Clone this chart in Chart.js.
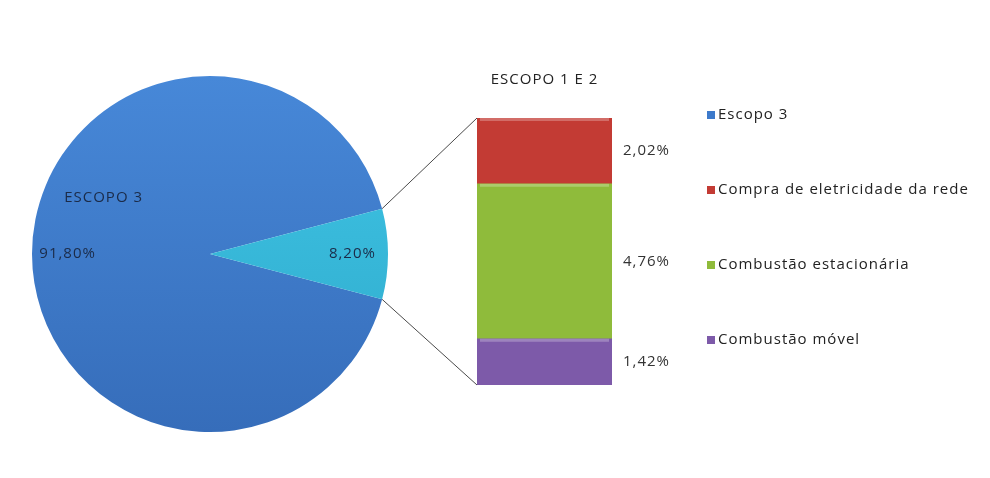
<!DOCTYPE html>
<html lang="pt-BR">
<head>
  <meta charset="UTF-8">
  <title>Emissões por escopo</title>
  <style>
    html, body {
      margin: 0;
      padding: 0;
      background: #ffffff;
    }
    .stage {
      position: relative;
      width: 990px;
      height: 478px;
    }
    .stage canvas {
      position: absolute;
      left: 0;
      top: 0;
    }
  </style>
</head>
<body>
  <div class="stage">
    <canvas id="pieChart" width="990" height="478"></canvas>
    <canvas id="barChart" width="990" height="478"></canvas>
  </div>

  <script src="https://cdn.jsdelivr.net/npm/chart.js"></script>
  <script>
    // Pie: total emissions split into scope 3 and scopes 1+2 (%)
    const pieLabels = ['Escopo 3', 'Escopo 1 e 2'];
    const pieValues = [91.80, 8.20];
    const pieColors = ['#3d7acb', '#36badb'];

    // Stacked bar: breakdown of scopes 1+2 (%), bottom to top
    const barLabels = ['Combustão móvel', 'Combustão estacionária', 'Compra de eletricidade da rede'];
    const barValues = [1.42, 4.76, 2.02];
    const barColors = ['#7d5aa9', '#8fbb3b', '#c33b34'];

    const FONT = '"Open Sans", sans-serif';
    const fmt = v => v.toFixed(2).replace('.', ',') + '%';

    // slightly lighter at the top, darker at the bottom
    const pieShades = [['#4788d8', '#366dba'], ['#40c6e6', '#2ea9cb']];

    // rotate so the scope 1+2 slice sits centred on the right-hand side
    const total = pieValues.reduce((a, b) => a + b, 0);
    const rotation = 90 - (pieValues[0] + pieValues[1] / 2) / total * 360;

    const pieChart = new Chart(document.getElementById('pieChart'), {
      type: 'pie',
      data: {
        labels: pieLabels,
        datasets: [{
          data: pieValues,
          backgroundColor(c) {
            const area = c.chart.chartArea;
            if (!area) return pieColors[c.dataIndex];
            const g = c.chart.ctx.createLinearGradient(0, area.top, 0, area.bottom);
            g.addColorStop(0, pieShades[c.dataIndex][0]);
            g.addColorStop(1, pieShades[c.dataIndex][1]);
            return g;
          },
          borderWidth: 0
        }]
      },
      options: {
        responsive: false,
        animation: false,
        rotation: rotation,
        layout: { padding: { left: 32, right: 602, top: 76, bottom: 46 } },
        plugins: {
          legend: { display: false },
          tooltip: { enabled: false }
        }
      },
      plugins: [{
        id: 'pieLabels',
        afterDatasetsDraw(chart) {
          const ctx = chart.ctx;
          const arcs = chart.getDatasetMeta(0).data;
          ctx.save();
          ctx.font = '15px ' + FONT;
          ctx.letterSpacing = '1px';
          ctx.fillStyle = '#1b2b48';
          ctx.textAlign = 'center';
          ctx.textBaseline = 'middle';
          arcs.forEach((arc, i) => {
            const mid = (arc.startAngle + arc.endAngle) / 2;
            const r = arc.outerRadius * 0.8;
            const x = arc.x + Math.cos(mid) * r;
            const y = arc.y + Math.sin(mid) * r;
            ctx.fillText(fmt(pieValues[i]), x, y);
            if (i === 0) {
              ctx.fillText(pieLabels[0].toUpperCase(), x + 36, y - 56);
            }
          });
          ctx.restore();
        }
      }]
    });

    const barChart = new Chart(document.getElementById('barChart'), {
      type: 'bar',
      data: {
        labels: [pieLabels[1].toUpperCase()],
        datasets: barLabels.map((label, i) => ({
          label: label,
          data: [barValues[i]],
          backgroundColor: barColors[i],
          borderWidth: 0,
          barPercentage: 1,
          categoryPercentage: 1
        }))
      },
      options: {
        responsive: false,
        animation: false,
        layout: { padding: { left: 477, right: 378, top: 118, bottom: 93 } },
        scales: {
          x: { display: false, stacked: true },
          y: { display: false, stacked: true, min: 0, max: pieValues[1] }
        },
        plugins: {
          legend: { display: false },
          tooltip: { enabled: false }
        }
      },
      plugins: [{
        id: 'barExtras',
        afterDatasetsDraw(chart) {
          const ctx = chart.ctx;
          const n = chart.data.datasets.length;
          const bottom = chart.getDatasetMeta(0).data[0];
          const top = chart.getDatasetMeta(n - 1).data[0];
          const left = top.x - top.width / 2;

          // connector lines from the small slice to the bar
          const arc = pieChart.getDatasetMeta(0).data[1];
          ctx.save();
          ctx.strokeStyle = '#4a4a4a';
          ctx.lineWidth = 1;
          ctx.beginPath();
          ctx.moveTo(arc.x + Math.cos(arc.startAngle) * arc.outerRadius,
                     arc.y + Math.sin(arc.startAngle) * arc.outerRadius);
          ctx.lineTo(left, top.y);
          ctx.moveTo(arc.x + Math.cos(arc.endAngle) * arc.outerRadius,
                     arc.y + Math.sin(arc.endAngle) * arc.outerRadius);
          ctx.lineTo(left, bottom.base);
          ctx.stroke();

          // thin light highlight along the top of each segment
          chart.data.datasets.forEach((ds, i) => {
            const el = chart.getDatasetMeta(i).data[0];
            ctx.fillStyle = 'rgba(255,255,255,0.25)';
            ctx.fillRect(el.x - el.width / 2 + 3, el.y, el.width - 6, 3);
          });

          ctx.letterSpacing = '1px';
          ctx.textBaseline = 'middle';

          // bar title
          ctx.font = '15px ' + FONT;
          ctx.fillStyle = '#222';
          ctx.textAlign = 'center';
          ctx.fillText(chart.data.labels[0], top.x, 80);

          // segment values to the right of the bar
          ctx.fillStyle = '#333';
          ctx.textAlign = 'left';
          chart.data.datasets.forEach((ds, i) => {
            const el = chart.getDatasetMeta(i).data[0];
            ctx.fillText(fmt(ds.data[0]), el.x + el.width / 2 + 11, (el.y + el.base) / 2);
          });

          // legend: scope 3 first, then the bar segments top to bottom
          const items = [{ text: pieLabels[0], color: pieColors[0] }];
          for (let i = n - 1; i >= 0; i--) {
            items.push({ text: barLabels[i], color: barColors[i] });
          }
          items.forEach((it, i) => {
            const y = 115 + i * 75;
            ctx.fillStyle = it.color;
            ctx.fillRect(707, y - 4, 8, 8);
            ctx.fillStyle = '#222';
            ctx.fillText(it.text, 718, y);
          });
          ctx.restore();
        }
      }]
    });
  </script>
</body>
</html>
